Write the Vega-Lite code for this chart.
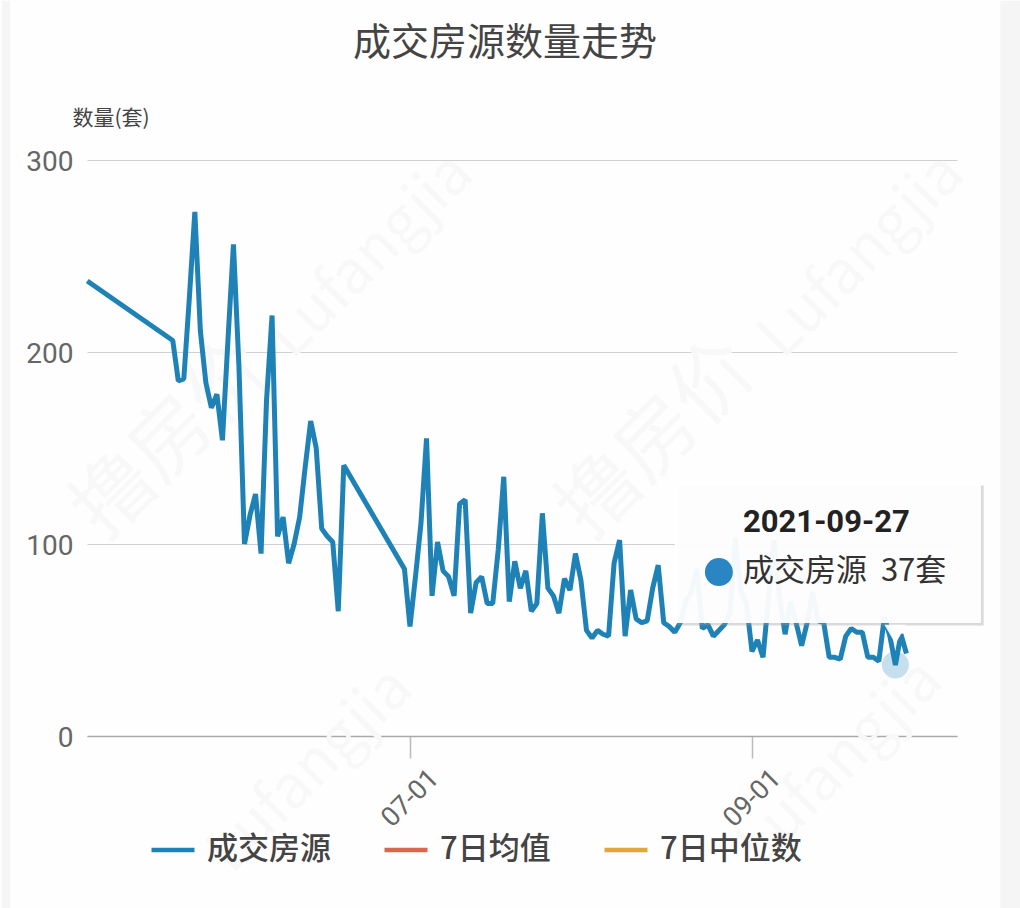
{"$schema":"https://vega.github.io/schema/vega-lite/v6.json","width":870,"height":576,"autosize":"none","padding":{"left":87,"top":160,"right":63,"bottom":172},"background":"#fefefe","title":{"text":"成交房源数量走势","fontSize":38,"font":"Noto Sans CJK SC","fontWeight":"normal","color":"#444444","anchor":"middle","dx":-17,"offset":-62},"config":{"view":{"stroke":null}},"datasets":{"deals":[{"date":"2021-05-03T12:00:00Z","value":237,"series":"成交房源"},{"date":"2021-05-19","value":206,"series":"成交房源"},{"date":"2021-05-20","value":185,"series":"成交房源"},{"date":"2021-05-21","value":186,"series":"成交房源"},{"date":"2021-05-22","value":228,"series":"成交房源"},{"date":"2021-05-23","value":273,"series":"成交房源"},{"date":"2021-05-24","value":211,"series":"成交房源"},{"date":"2021-05-25","value":184,"series":"成交房源"},{"date":"2021-05-26","value":171,"series":"成交房源"},{"date":"2021-05-27","value":178,"series":"成交房源"},{"date":"2021-05-28","value":154,"series":"成交房源"},{"date":"2021-05-29","value":206,"series":"成交房源"},{"date":"2021-05-30","value":256,"series":"成交房源"},{"date":"2021-05-31","value":192,"series":"成交房源"},{"date":"2021-06-01","value":100,"series":"成交房源"},{"date":"2021-06-02","value":115,"series":"成交房源"},{"date":"2021-06-03","value":126,"series":"成交房源"},{"date":"2021-06-04","value":95,"series":"成交房源"},{"date":"2021-06-05","value":175,"series":"成交房源"},{"date":"2021-06-06","value":219,"series":"成交房源"},{"date":"2021-06-07","value":104,"series":"成交房源"},{"date":"2021-06-08","value":114,"series":"成交房源"},{"date":"2021-06-09","value":90,"series":"成交房源"},{"date":"2021-06-10","value":100,"series":"成交房源"},{"date":"2021-06-11","value":114,"series":"成交房源"},{"date":"2021-06-12","value":140,"series":"成交房源"},{"date":"2021-06-13","value":164,"series":"成交房源"},{"date":"2021-06-14","value":150,"series":"成交房源"},{"date":"2021-06-15","value":108,"series":"成交房源"},{"date":"2021-06-16","value":104,"series":"成交房源"},{"date":"2021-06-17","value":101,"series":"成交房源"},{"date":"2021-06-18","value":65,"series":"成交房源"},{"date":"2021-06-19","value":141,"series":"成交房源"},{"date":"2021-06-30","value":87,"series":"成交房源"},{"date":"2021-07-01","value":57,"series":"成交房源"},{"date":"2021-07-02","value":83,"series":"成交房源"},{"date":"2021-07-03","value":111,"series":"成交房源"},{"date":"2021-07-04","value":155,"series":"成交房源"},{"date":"2021-07-05","value":73,"series":"成交房源"},{"date":"2021-07-06","value":101,"series":"成交房源"},{"date":"2021-07-07","value":86,"series":"成交房源"},{"date":"2021-07-08","value":83,"series":"成交房源"},{"date":"2021-07-09","value":73,"series":"成交房源"},{"date":"2021-07-10","value":121,"series":"成交房源"},{"date":"2021-07-11","value":123,"series":"成交房源"},{"date":"2021-07-12","value":64,"series":"成交房源"},{"date":"2021-07-13","value":80,"series":"成交房源"},{"date":"2021-07-14","value":83,"series":"成交房源"},{"date":"2021-07-15","value":69,"series":"成交房源"},{"date":"2021-07-16","value":69,"series":"成交房源"},{"date":"2021-07-17","value":97,"series":"成交房源"},{"date":"2021-07-18","value":135,"series":"成交房源"},{"date":"2021-07-19","value":70,"series":"成交房源"},{"date":"2021-07-20","value":91,"series":"成交房源"},{"date":"2021-07-21","value":77,"series":"成交房源"},{"date":"2021-07-22","value":86,"series":"成交房源"},{"date":"2021-07-23","value":65,"series":"成交房源"},{"date":"2021-07-24","value":69,"series":"成交房源"},{"date":"2021-07-25","value":116,"series":"成交房源"},{"date":"2021-07-26","value":77,"series":"成交房源"},{"date":"2021-07-27","value":73,"series":"成交房源"},{"date":"2021-07-28","value":64,"series":"成交房源"},{"date":"2021-07-29","value":82,"series":"成交房源"},{"date":"2021-07-30","value":76,"series":"成交房源"},{"date":"2021-07-31","value":95,"series":"成交房源"},{"date":"2021-08-01","value":81,"series":"成交房源"},{"date":"2021-08-02","value":55,"series":"成交房源"},{"date":"2021-08-03","value":51,"series":"成交房源"},{"date":"2021-08-04","value":55,"series":"成交房源"},{"date":"2021-08-05","value":53,"series":"成交房源"},{"date":"2021-08-06","value":52,"series":"成交房源"},{"date":"2021-08-07","value":90,"series":"成交房源"},{"date":"2021-08-08","value":102,"series":"成交房源"},{"date":"2021-08-09","value":52,"series":"成交房源"},{"date":"2021-08-10","value":76,"series":"成交房源"},{"date":"2021-08-11","value":61,"series":"成交房源"},{"date":"2021-08-12","value":59,"series":"成交房源"},{"date":"2021-08-13","value":60,"series":"成交房源"},{"date":"2021-08-14","value":77,"series":"成交房源"},{"date":"2021-08-15","value":89,"series":"成交房源"},{"date":"2021-08-16","value":59,"series":"成交房源"},{"date":"2021-08-17","value":57,"series":"成交房源"},{"date":"2021-08-18","value":54,"series":"成交房源"},{"date":"2021-08-19","value":59,"series":"成交房源"},{"date":"2021-08-20","value":70,"series":"成交房源"},{"date":"2021-08-21","value":75,"series":"成交房源"},{"date":"2021-08-22","value":87,"series":"成交房源"},{"date":"2021-08-23","value":56,"series":"成交房源"},{"date":"2021-08-24","value":58,"series":"成交房源"},{"date":"2021-08-25","value":52,"series":"成交房源"},{"date":"2021-08-26","value":55,"series":"成交房源"},{"date":"2021-08-27","value":58,"series":"成交房源"},{"date":"2021-08-28","value":64,"series":"成交房源"},{"date":"2021-08-29","value":103,"series":"成交房源"},{"date":"2021-08-30","value":75,"series":"成交房源"},{"date":"2021-08-31","value":69,"series":"成交房源"},{"date":"2021-09-01","value":44,"series":"成交房源"},{"date":"2021-09-02","value":50,"series":"成交房源"},{"date":"2021-09-03","value":41,"series":"成交房源"},{"date":"2021-09-04","value":72,"series":"成交房源"},{"date":"2021-09-05","value":102,"series":"成交房源"},{"date":"2021-09-06","value":72,"series":"成交房源"},{"date":"2021-09-07","value":53,"series":"成交房源"},{"date":"2021-09-08","value":70,"series":"成交房源"},{"date":"2021-09-09","value":59,"series":"成交房源"},{"date":"2021-09-10","value":47,"series":"成交房源"},{"date":"2021-09-11","value":59,"series":"成交房源"},{"date":"2021-09-12","value":75,"series":"成交房源"},{"date":"2021-09-13","value":60,"series":"成交房源"},{"date":"2021-09-14","value":59,"series":"成交房源"},{"date":"2021-09-15","value":41,"series":"成交房源"},{"date":"2021-09-16","value":41,"series":"成交房源"},{"date":"2021-09-17","value":40,"series":"成交房源"},{"date":"2021-09-18","value":52,"series":"成交房源"},{"date":"2021-09-19","value":56,"series":"成交房源"},{"date":"2021-09-20","value":54,"series":"成交房源"},{"date":"2021-09-21","value":54,"series":"成交房源"},{"date":"2021-09-22","value":41,"series":"成交房源"},{"date":"2021-09-23","value":41,"series":"成交房源"},{"date":"2021-09-24","value":39,"series":"成交房源"},{"date":"2021-09-25","value":62,"series":"成交房源"},{"date":"2021-09-26","value":52,"series":"成交房源"},{"date":"2021-09-27","value":37,"series":"成交房源"},{"date":"2021-09-28","value":53,"series":"成交房源"},{"date":"2021-09-29","value":43,"series":"成交房源"}]},"encoding":{"x":{"field":"date","type":"temporal","scale":{"type":"utc","domain":["2021-05-03T10:48:00Z","2021-10-08T04:00:00Z"],"nice":false},"axis":{"title":null,"values":[{"year":2021,"month":7,"date":1,"utc":true},{"year":2021,"month":9,"date":1,"utc":true}],"format":"%m-%d","grid":false,"domain":true,"domainColor":"#aaaaaa","domainWidth":1.5,"ticks":true,"tickColor":"#bbbbbb","tickWidth":1.5,"tickSize":22,"labelFont":"Roboto","labelFontSize":27,"labelColor":"#666666","labelAngle":-45,"labelAlign":"center","labelBaseline":"middle","labelPadding":40,"labelFlush":false,"labelOverlap":false}},"y":{"field":"value","type":"quantitative","scale":{"domain":[0,300],"nice":false},"axis":{"title":"数量(套)","titleFont":"Noto Sans CJK SC","titleFontSize":21,"titleFontWeight":"normal","titleColor":"#444444","titleAngle":0,"titleAlign":"left","titleBaseline":"middle","titleX":-15,"titleY":-42,"values":[0,100,200,300],"grid":true,"gridColor":"#cfcfd4","gridWidth":1.2,"domain":false,"ticks":false,"labelFont":"Roboto","labelFontSize":28,"labelColor":"#666666","labelPadding":14,"labelOffset":2}}},"layer":[{"data":{"values":[{"date":"2021-04-18","date2":"2021-04-19T12:00:00Z","value":-90,"value2":383},{"date":"2021-10-16","date2":"2021-10-20","value":-90,"value2":383}]},"mark":{"type":"rect","color":"#f5f5f6"},"encoding":{"x2":{"field":"date2"},"y2":{"field":"value2"}}},{"data":{"values":[{"date":"2021-05-19","value":154,"label":"撸房价","size":80},{"date":"2021-06-24","value":250,"label":"Lufangjia","size":60},{"date":"2021-08-15","value":154,"label":"撸房价","size":80},{"date":"2021-09-21","value":250,"label":"Lufangjia","size":60},{"date":"2021-06-13","value":-18,"label":"Lufangjia","size":60},{"date":"2021-09-17","value":-14,"label":"Lufangjia","size":60}]},"mark":{"type":"text","angle":-45,"font":"Noto Sans CJK SC","color":"#f8f8f9","align":"center","baseline":"middle"},"encoding":{"text":{"field":"label"},"size":{"field":"size","type":"quantitative","scale":null,"legend":null}}},{"data":{"name":"deals"},"mark":{"type":"line","strokeWidth":5,"strokeJoin":"bevel"},"encoding":{"color":{"field":"series","type":"nominal","scale":{"domain":["成交房源","7日均值","7日中位数"],"range":["#1f82b6","#d9674e","#e0a83a"]},"legend":{"orient":"none","legendX":62,"legendY":666,"direction":"horizontal","columns":3,"title":null,"symbolType":"stroke","symbolSize":1849,"symbolStrokeWidth":4.5,"labelFont":"Noto Sans CJK SC","labelFontSize":31,"labelFontWeight":500,"labelColor":"#444444","labelOffset":10,"columnPadding":44,"labelLimit":300}}}},{"data":{"values":[{"date":"2021-09-27","value":37}]},"mark":{"type":"point","shape":"circle","filled":true,"size":729,"color":"#1f82b6","opacity":0.25}},{"data":{"values":[{"date":"2021-08-18T12:00:00Z","date2":"2021-10-13T00:00:00Z","value":130.5,"value2":57.5}]},"mark":{"type":"rect","color":"#999999","opacity":0.35},"encoding":{"x2":{"field":"date2"},"y2":{"field":"value2"}}},{"data":{"values":[{"date":"2021-08-18T00:00:00Z","date2":"2021-10-12T12:00:00Z","value":131.8,"value2":58.9}]},"mark":{"type":"rect","color":"#ffffff","opacity":0.94},"encoding":{"x2":{"field":"date2"},"y2":{"field":"value2"}}},{"data":{"values":[{"date":"2021-09-27","value":53}]},"mark":{"type":"point","shape":"triangle-down","filled":true,"size":484,"color":"#ffffff","opacity":0.94}},{"data":{"values":[{"date":"2021-08-26","value":85.4}]},"mark":{"type":"point","shape":"circle","filled":true,"size":784,"color":"#2a86c3","opacity":1}},{"data":{"values":[{"date":"2021-08-30T09:00:00Z","value":111,"label":"2021-09-27"}]},"mark":{"type":"text","align":"left","baseline":"middle","font":"Roboto","fontWeight":"bold","fontSize":31,"color":"#222222"},"encoding":{"text":{"field":"label"}}},{"data":{"values":[{"date":"2021-08-30T09:00:00Z","value":85.4,"label":"成交房源\u00a0\u00a037套"}]},"mark":{"type":"text","align":"left","baseline":"middle","font":"Noto Sans CJK SC","fontSize":31,"color":"#333333"},"encoding":{"text":{"field":"label"}}}]}
